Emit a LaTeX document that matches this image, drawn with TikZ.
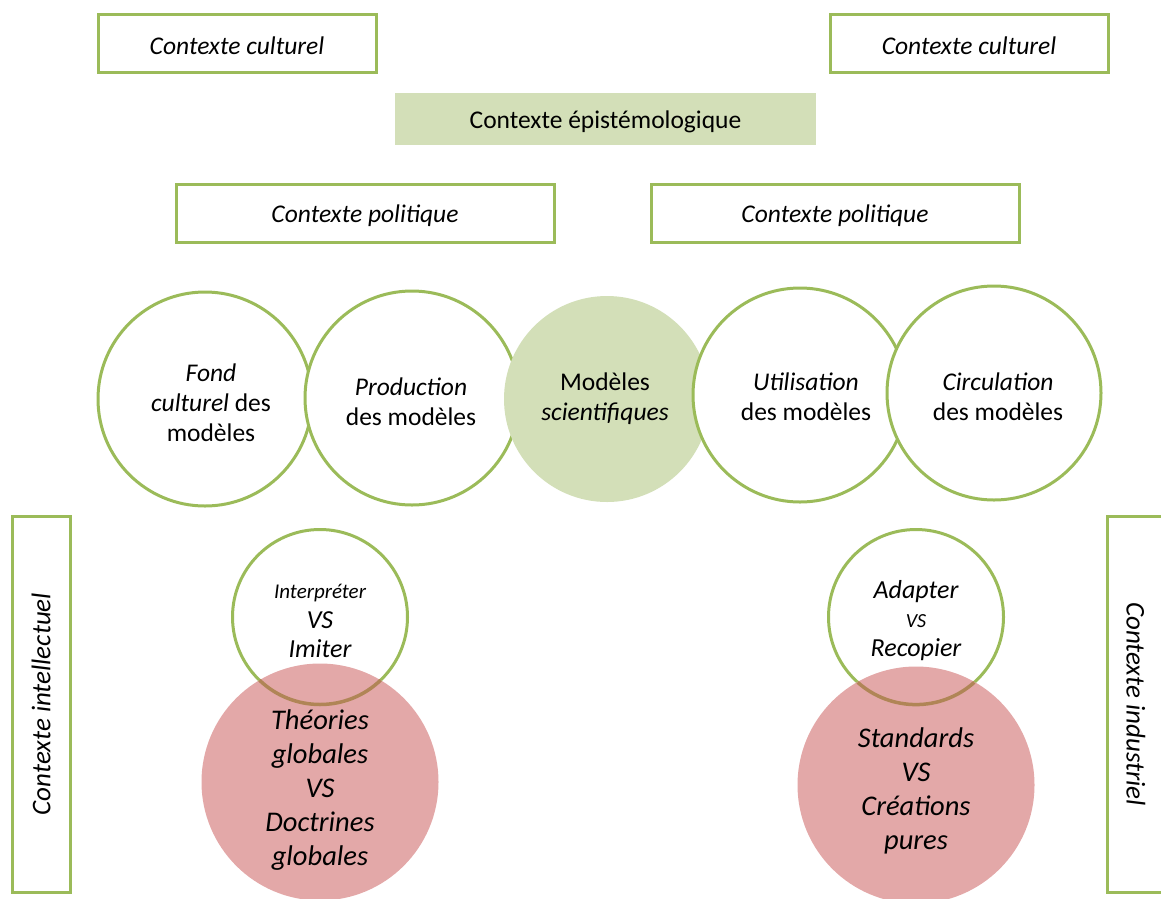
\documentclass[tikz,border=0pt]{standalone}
\usepackage{fontspec}
\setmainfont{Carlito}
\definecolor{olive}{HTML}{9BBB59}
\definecolor{lightolive}{HTML}{D3DFB8}
\definecolor{pinkfill}{HTML}{E3A8A8}
\definecolor{arcbrown}{HTML}{B08556}
\tikzset{
  ctxbox/.style={draw=olive, line width=3pt, fill=white, minimum width=278pt, minimum height=58pt, inner sep=0pt, font=\fontsize{25.5}{30}\selectfont\itshape},
  vbox/.style={draw=olive, line width=3pt, fill=white, minimum width=376pt, minimum height=58pt, inner sep=0pt, font=\fontsize{27}{30}\selectfont\itshape},
  bigc/.style={circle, draw=olive, line width=3pt, fill=white, minimum size=214pt, inner sep=0pt},
  smallc/.style={circle, draw=olive, line width=3pt, minimum size=175pt, inner sep=0pt},
  pinkc/.style={circle, fill=pinkfill, minimum size=237pt, inner sep=0pt},
  ctxt/.style={align=center, font=\fontsize{25.5}{30}\selectfont},
  pinktxt/.style={align=center, font=\fontsize{28.5}{34}\selectfont\itshape},
  brownarc/.style={draw=arcbrown, line width=3.5pt}
}
\begin{document}
\begin{tikzpicture}[x=1pt,y=-1pt]
\useasboundingbox (0,0) rectangle (1161,898);
\clip (0,0) rectangle (1161,898);
% top boxes
\node[ctxbox] (cultL) at (237,43) {};
\node[ctxbox] (cultR) at (969,43) {};
\node[fill=lightolive, minimum width=421pt, minimum height=52pt, inner sep=0pt] (epis) at (605.5,119) {};
\node[ctxbox, minimum width=378pt] (polL) at (365,213) {};
\node[ctxbox, minimum width=368pt] (polR) at (835,213) {};
\node[font=\fontsize{25.5}{30}\selectfont\itshape] (cultLt) at (237,46) {Contexte culturel};
\node[font=\fontsize{25.5}{30}\selectfont\itshape] (cultRt) at (969,46) {Contexte culturel};
\node[font=\fontsize{25.5}{30}\selectfont] (epist) at (605.5,122) {Contexte épistémologique};
\node[font=\fontsize{25.5}{30}\selectfont\itshape] (polLt) at (365,216) {Contexte politique};
\node[font=\fontsize{25.5}{30}\selectfont\itshape] (polRt) at (835,216) {Contexte politique};
% circles row
\node[bigc] (fond) at (205,399) {};
\node[bigc] (prod) at (412,398) {};
\node[circle, fill=lightolive, minimum size=206pt, inner sep=0pt] (mod) at (607,399) {};
\node[bigc] (util) at (800,395) {};
\node[bigc] (circ) at (994,393) {};
\node[ctxt] (fondt) at (211,403) {\textit{Fond}\\\textit{culturel} des\\modèles};
\node[ctxt] (prodt) at (411,402) {\textit{Production}\\des modèles};
\node[ctxt] (modt) at (605,399) {Modèles\\\textit{scientifiques}};
\node[ctxt] (utilt) at (806,397) {\textit{Utilisation}\\des modèles};
\node[ctxt] (circt) at (998,397) {\textit{Circulation}\\des modèles};
% side boxes
\node[vbox, rotate=90] (intel) at (41,704) {Contexte intellectuel};
\node[vbox, rotate=-90] (indus) at (1136,704) {Contexte industriel};
% lower left
\node[smallc] (interp) at (320,617) {};
\node[align=center, font=\fontsize{26}{29.5}\selectfont\itshape] (interpt) at (320,621) {{\fontsize{21}{20}\selectfont Interpréter}\\VS\\Imiter};
\node[pinkc] (theo) at (320,782) {};
\draw[brownarc] (interp.center) ++(60.6,63.15) arc[start angle=46.2, end angle=133.8, radius=87.5];
\node[pinktxt] (theot) at (320,790) {Théories\\globales\\VS\\Doctrines\\globales};
% lower right
\node[smallc] (adapt) at (916,617) {};
\node[align=center, font=\fontsize{26}{29}\selectfont\itshape] (adaptt) at (916,621) {Adapter\\{\fontsize{20}{20}\selectfont VS}\\Recopier};
\node[pinkc] (stand) at (916,785) {};
\draw[brownarc] (adapt.center) ++(58.3,65.3) arc[start angle=48.2, end angle=131.8, radius=87.5];
\node[pinktxt] (standt) at (916,791) {Standards\\VS\\Créations\\pures};
\end{tikzpicture}
\end{document}
